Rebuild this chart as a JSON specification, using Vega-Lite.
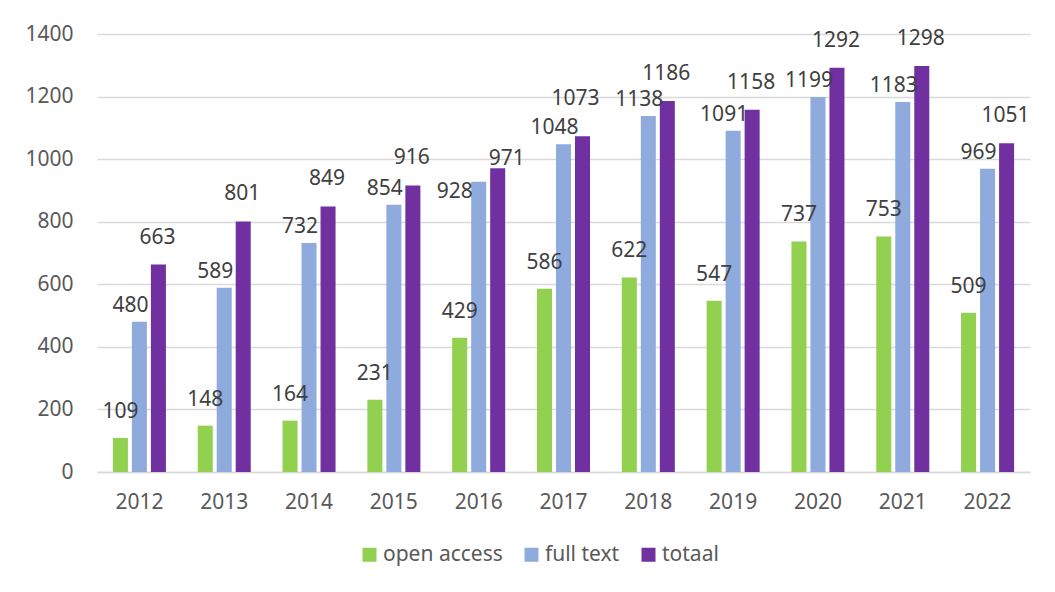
{
  "$schema": "https://vega.github.io/schema/vega-lite/v6.json",
  "width": 933,
  "height": 438,
  "autosize": {"type": "none"},
  "padding": {"left": 97, "top": 34, "right": 25, "bottom": 120},
  "background": "white",
  "config": {
    "font": "Noto Sans",
    "view": {"stroke": null},
    "axis": {"labelFont": "Noto Sans", "labelColor": "#595959", "labelFontSize": 20}
  },
  "data": {
    "values": [
      {"year": "2012", "series": "open access", "value": 109},
      {"year": "2012", "series": "full text", "value": 480},
      {"year": "2012", "series": "totaal", "value": 663},
      {"year": "2013", "series": "open access", "value": 148},
      {"year": "2013", "series": "full text", "value": 589},
      {"year": "2013", "series": "totaal", "value": 801},
      {"year": "2014", "series": "open access", "value": 164},
      {"year": "2014", "series": "full text", "value": 732},
      {"year": "2014", "series": "totaal", "value": 849},
      {"year": "2015", "series": "open access", "value": 231},
      {"year": "2015", "series": "full text", "value": 854},
      {"year": "2015", "series": "totaal", "value": 916},
      {"year": "2016", "series": "open access", "value": 429},
      {"year": "2016", "series": "full text", "value": 928},
      {"year": "2016", "series": "totaal", "value": 971},
      {"year": "2017", "series": "open access", "value": 586},
      {"year": "2017", "series": "full text", "value": 1048},
      {"year": "2017", "series": "totaal", "value": 1073},
      {"year": "2018", "series": "open access", "value": 622},
      {"year": "2018", "series": "full text", "value": 1138},
      {"year": "2018", "series": "totaal", "value": 1186},
      {"year": "2019", "series": "open access", "value": 547},
      {"year": "2019", "series": "full text", "value": 1091},
      {"year": "2019", "series": "totaal", "value": 1158},
      {"year": "2020", "series": "open access", "value": 737},
      {"year": "2020", "series": "full text", "value": 1199},
      {"year": "2020", "series": "totaal", "value": 1292},
      {"year": "2021", "series": "open access", "value": 753},
      {"year": "2021", "series": "full text", "value": 1183},
      {"year": "2021", "series": "totaal", "value": 1298},
      {"year": "2022", "series": "open access", "value": 509},
      {"year": "2022", "series": "full text", "value": 969},
      {"year": "2022", "series": "totaal", "value": 1051}
    ]
  },
  "encoding": {
    "x": {
      "field": "year", "type": "nominal", "title": null,
      "scale": {"paddingInner": 0.375, "paddingOuter": 0.1875},
      "axis": {"labelAngle": 0, "ticks": false, "domainColor": "#d9d9d9", "domainWidth": 1.5, "labelPadding": 19, "labelFontSize": 21, "grid": false}
    },
    "xOffset": {
      "field": "series", "type": "nominal",
      "sort": ["open access", "full text", "totaal"],
      "scale": {"paddingInner": 0.21, "paddingOuter": 0}
    },
    "y": {
      "field": "value", "type": "quantitative", "title": null,
      "scale": {"domain": [0, 1400], "nice": false},
      "axis": {"values": [0, 200, 400, 600, 800, 1000, 1200, 1400], "format": "d", "ticks": false, "domain": false, "gridColor": "#d9d9d9", "gridWidth": 1.5, "labelPadding": 24, "labelFontSize": 21}
    }
  },
  "layer": [
    {
      "mark": {"type": "bar"},
      "encoding": {
        "color": {
          "field": "series", "type": "nominal",
          "sort": ["open access", "full text", "totaal"],
          "scale": {"domain": ["open access", "full text", "totaal"], "range": ["#92d050", "#8faadc", "#7030a0"]},
          "legend": {
            "title": null, "orient": "none", "legendX": 262, "legendY": 510, "direction": "horizontal",
            "symbolType": "square", "symbolSize": 196, "symbolStrokeWidth": 0,
            "labelFontSize": 21, "labelColor": "#595959", "labelFont": "Noto Sans",
            "labelOffset": 3, "columnPadding": 18
          }
        }
      }
    },
    {
      "transform": [{"filter": "datum.series == 'open access'"}],
      "mark": {"type": "text", "fontSize": 21, "color": "#404040", "baseline": "middle", "dy": -26},
      "encoding": {"text": {"field": "value", "type": "quantitative"}}
    },
    {
      "transform": [{"filter": "datum.series == 'full text' && datum.year != '2016'"}],
      "mark": {"type": "text", "fontSize": 21, "color": "#404040", "baseline": "middle", "dy": -16, "dx": -9},
      "encoding": {"text": {"field": "value", "type": "quantitative"}}
    },
    {
      "transform": [{"filter": "datum.series == 'full text' && datum.year == '2016'"}],
      "mark": {"type": "text", "fontSize": 21, "color": "#404040", "baseline": "middle", "dy": 10, "dx": -24},
      "encoding": {"text": {"field": "value", "type": "quantitative"}}
    },
    {
      "transform": [{"filter": "datum.series == 'totaal' && datum.year != '2016' && datum.year != '2017'"}],
      "mark": {"type": "text", "fontSize": 21, "color": "#404040", "baseline": "middle", "dy": -27, "dx": -1},
      "encoding": {"text": {"field": "value", "type": "quantitative"}}
    },
    {
      "transform": [{"filter": "datum.series == 'totaal' && datum.year == '2017'"}],
      "mark": {"type": "text", "fontSize": 21, "color": "#404040", "baseline": "middle", "dy": -37, "dx": -7},
      "encoding": {"text": {"field": "value", "type": "quantitative"}}
    },
    {
      "transform": [{"filter": "datum.series == 'totaal' && datum.year == '2016'"}],
      "mark": {"type": "text", "fontSize": 21, "color": "#404040", "baseline": "middle", "dy": -9, "dx": 9},
      "encoding": {"text": {"field": "value", "type": "quantitative"}}
    }
  ]
}
